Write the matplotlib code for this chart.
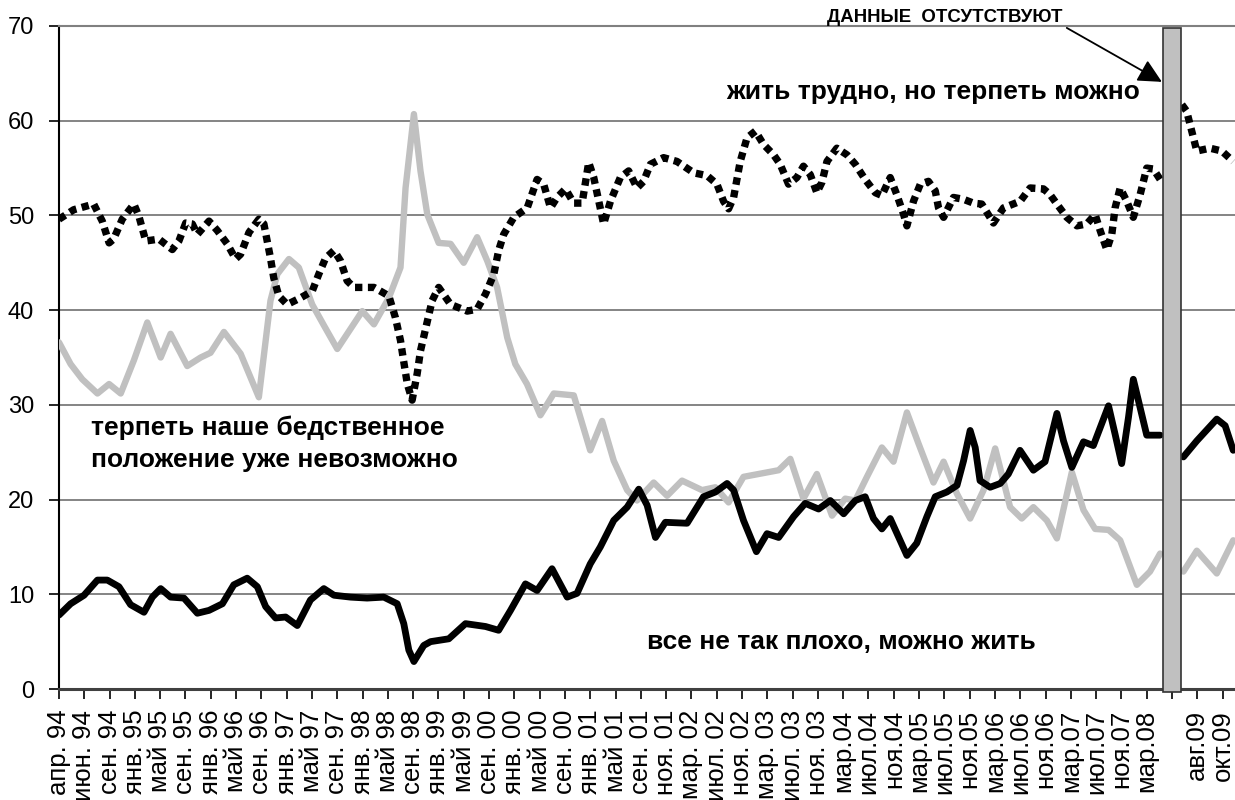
import matplotlib
matplotlib.use("Agg")
import matplotlib.pyplot as plt
import numpy as np
from matplotlib.patches import Rectangle

plt.rcParams["font.family"] = ["Liberation Sans", "DejaVu Sans"]

# category labels, one per tick (tick 44 has no data and no label)
tick_labels = [
    "апр. 94", "июн. 94", "сен. 94", "янв. 95", "май 95", "сен. 95",
    "янв. 96", "май 96", "сен. 96", "янв. 97", "май 97", "сен. 97",
    "янв. 98", "май 98", "сен. 98", "янв. 99", "май 99", "сен. 00",
    "янв. 00", "май 00", "сен. 00", "янв. 01", "май 01", "сен. 01",
    "ноя. 01", "мар. 02", "июл. 02", "ноя. 02", "мар. 03", "июл. 03",
    "ноя. 03", "мар.04", "июл.04", "ноя.04", "мар.05", "июл.05",
    "ноя.05", "мар.06", "июл.06", "ноя.06", "мар.07", "июл.07",
    "ноя.07", "мар.08", "", "авг.09", "окт.09",
]
gap_tick = 44

# "жить трудно, но терпеть можно" (position in tick units, value %)
hard_t = [0, 0.58, 1.37, 1.71, 1.98, 2.16, 2.5, 2.96, 3.16, 3.43, 3.95, 4.48,
          4.74, 5.01, 5.27, 5.47, 5.93, 6.26, 6.65, 6.98, 7.18, 7.51, 7.9, 8.1,
          8.36, 8.49, 8.69, 9.02, 9.55, 10.01, 10.27, 10.54, 10.87, 11.13, 11.39,
          11.66, 12.45, 13.04, 13.3, 13.5, 13.62, 13.77, 13.96, 14.16, 14.29,
          14.49, 14.75, 15.01, 15.48, 16.14, 16.53, 16.86, 17.19, 17.38, 17.58,
          17.98, 18.51, 18.9, 19.16, 19.43, 19.69, 20.02, 20.35, 20.68, 20.94,
          21.14, 21.34, 21.53, 21.8, 22.19, 22.52, 22.85, 23.11, 23.38, 23.9,
          24.43, 25.09, 25.62, 26.01, 26.27, 26.47, 26.67, 26.93, 27.2, 27.53,
          27.85, 28.25, 28.51, 28.84, 29.17, 29.43, 29.7, 29.96, 30.16, 30.36,
          30.75, 31.15, 31.48, 31.87, 32.27, 32.53, 32.86, 33.12, 33.39, 33.52,
          33.78, 34.05, 34.37, 34.64, 34.77, 34.97, 35.36, 35.76, 36.15, 36.48,
          36.94, 37.34, 38.0, 38.39, 38.92, 39.18, 39.45, 39.84, 40.24, 40.63,
          40.96, 41.16, 41.42, 41.62, 41.75, 41.95, 42.21, 42.47, 42.74, 43.0,
          43.26, 43.53, 44.0, 44.39, 44.58, 44.78, 44.98, 45.5, 45.97, 46.42]
hard_v = [49.6, 50.6, 51.2, 49.4, 47.1, 47.5, 49.6, 51.2, 49.9, 47.3, 47.5, 46.4,
          47.3, 49.2, 49.1, 48.0, 49.4, 48.4, 47.0, 45.4, 45.9, 48.2, 49.6, 49.1,
          45.5, 43.4, 41.5, 40.6, 41.3, 42.0, 43.8, 45.5, 46.3, 45.2, 43.1,
          42.4, 42.4, 41.5, 39.2, 36.8, 34.7, 32.2, 30.5, 33.3, 35.7,
          38.0, 41.0, 42.4, 40.6, 39.9, 40.1, 41.7, 43.8, 46.3, 48.0,
          49.8, 50.8, 53.8, 53.3, 50.8, 51.9, 52.8, 51.3, 51.3, 55.6,
          54.0, 51.5, 49.1, 51.5, 54.0, 54.7, 52.9, 53.6, 55.4, 56.1,
          55.7, 54.5, 54.2, 53.3, 51.5, 50.7, 51.9, 55.7, 58.2, 58.9,
          57.5, 56.4, 55.4, 53.3, 54.0, 55.2, 54.3, 52.4, 53.5, 55.7,
          57.1, 56.4, 55.4, 53.8, 52.4, 52.1, 54.0, 52.2, 50.1, 48.9,
          51.5, 53.3, 53.6, 52.6, 50.8, 49.8, 51.9, 51.7, 51.3, 51.2,
          49.2, 50.8, 51.5, 52.9, 52.8, 52.2, 51.2, 49.8, 48.9, 49.1,
          50.1, 48.4, 46.4, 48.0, 50.8, 52.9, 51.5, 49.8, 52.2, 55.0,
          54.9, 53.8, np.nan, 61.7, 61.0, 58.9, 56.8, 57.1, 56.8, 55.7]

# "терпеть наше бедственное положение уже невозможно"
misery_t = [0, 0.46, 0.92, 1.52, 1.98, 2.44, 2.96, 3.49, 4.02, 4.41, 5.07, 5.6,
            5.99, 6.52, 7.18, 7.9, 8.36, 8.63, 9.09, 9.48, 10.01, 10.47, 11.0,
            11.99, 12.45, 13.04, 13.5, 13.7, 14.03, 14.29, 14.56, 15.01, 15.48,
            16.0, 16.53, 16.93, 17.32, 17.72, 18.04, 18.5, 19.03, 19.56, 20.35,
            21.0, 21.47, 21.93, 22.46, 22.85, 23.51, 24.04, 24.63, 25.42, 25.95,
            26.47, 27.06, 28.45, 28.91, 29.43, 29.96, 30.56, 31.08, 31.48, 31.94,
            32.53, 32.99, 33.52, 33.98, 34.57, 34.97, 35.5, 36.02, 36.55, 37.01,
            37.6, 38.06, 38.52, 39.05, 39.45, 40.04, 40.5, 40.96, 41.49, 41.95,
            42.61, 43.13, 43.53, 44.0, 44.45, 44.98, 45.77, 46.42]
misery_v = [36.6, 34.3, 32.7, 31.2, 32.2, 31.2, 34.7, 38.7, 35.0, 37.5, 34.1, 35.0,
            35.5, 37.7, 35.4, 30.8, 41.0, 43.8, 45.4, 44.5, 40.6, 38.4, 35.9,
            39.9, 38.5, 41.3, 44.5, 52.9, 60.7, 54.7, 50.1, 47.1, 47.0,
            45.0, 47.7, 45.2, 42.4, 37.1, 34.3, 32.2, 28.9, 31.2, 31.0,
            25.2, 28.3, 24.1, 21.0, 19.9, 21.8, 20.4, 22.0, 21.0, 21.3,
            19.7, 22.4, 23.1, 24.3, 20.1, 22.7, 18.3, 20.1, 19.9, 22.4,
            25.5, 24.0, 29.2, 25.9, 21.8, 24.0, 20.6, 18.0, 21.0, 25.4,
            19.2, 18.0, 19.2, 17.8, 15.9, 22.9, 18.9, 16.9, 16.8, 15.7,
            11.0, 12.4, 14.3, np.nan, 12.4, 14.6, 12.2, 15.7]

# "все не так плохо, можно жить"
ok_t = [0, 0.46, 0.99, 1.52, 1.91, 2.37, 2.83, 3.36, 3.69, 4.02, 4.41, 4.94, 5.47,
        5.93, 6.46, 6.91, 7.44, 7.84, 8.17, 8.56, 8.96, 9.42, 9.94, 10.47, 10.87,
        11.53, 12.18, 12.84, 13.37, 13.63, 13.83, 14.03, 14.42, 14.69, 15.41,
        16.07, 16.86, 17.38, 17.85, 18.44, 18.9, 19.49, 20.09, 20.48, 21.0, 21.4,
        21.93, 22.46, 22.92, 23.25, 23.58, 23.97, 24.83, 25.48, 25.95, 26.41,
        26.67, 27.06, 27.57, 27.99, 28.45, 29.04, 29.5, 30.03, 30.49, 31.02,
        31.48, 31.87, 32.2, 32.53, 32.86, 33.25, 33.52, 33.91, 34.31, 34.64,
        35.1, 35.5, 35.76, 36.02, 36.22, 36.41, 36.81, 37.21, 37.53, 37.99,
        38.52, 38.98, 39.45, 39.71, 40.04, 40.5, 40.89, 41.49, 41.75, 42.01,
        42.28, 42.47, 42.74, 43.0, 43.53, 44.0, 44.45, 44.98, 45.77, 46.1, 46.42]
ok_v = [7.8, 9.0, 9.9, 11.5, 11.5, 10.8, 8.9, 8.1, 9.7, 10.6, 9.7, 9.6, 8.0,
        8.3, 9.0, 11.0, 11.7, 10.8, 8.7, 7.5, 7.6, 6.7, 9.4, 10.6, 9.9,
        9.7, 9.6, 9.7, 9.0, 6.9, 4.1, 2.9, 4.6, 5.0, 5.3,
        6.9, 6.6, 6.2, 8.3, 11.1, 10.4, 12.7, 9.7, 10.1, 13.2, 15.0,
        17.8, 19.2, 21.1, 19.4, 16.0, 17.6, 17.5, 20.3, 20.8, 21.7,
        21.0, 17.8, 14.5, 16.4, 16.0, 18.2, 19.6, 19.0, 19.9, 18.5,
        19.9, 20.3, 18.0, 16.9, 18.0, 15.7, 14.1, 15.4, 18.2, 20.3,
        20.8, 21.5, 24.1, 27.3, 25.5, 22.0, 21.3, 21.7, 22.7, 25.2,
        23.1, 24.0, 29.1, 26.2, 23.4, 26.1, 25.7, 29.9, 26.9, 23.8,
        28.7, 32.7, 29.7, 26.8, 26.8, np.nan, 24.5, 26.2, 28.5, 27.8, 25.2]

fig = plt.figure(figsize=(12.35, 8.0), dpi=100)
ax = fig.add_axes([59 / 1235, 1 - 689 / 800, 1 - 59 / 1235, 663 / 800])

ax.set_xlim(0, 46.49)
ax.set_ylim(0, 70)
ax.set_yticks(range(0, 71, 10))
ax.yaxis.grid(True, color="#707070", lw=1.2)
ax.set_axisbelow(True)

ax.set_xticks(range(len(tick_labels)))
ax.set_xticklabels(tick_labels, rotation=90, fontsize=18.5)
ax.tick_params(axis="x", length=7, width=1.2, colors="black", pad=8)
ax.tick_params(axis="y", length=7, width=1.2, labelsize=17, pad=11)

ax.spines["right"].set_visible(False)
ax.spines["top"].set_color("#808080")
ax.spines["top"].set_linewidth(1.5)
ax.spines["left"].set_linewidth(1.5)
ax.spines["bottom"].set_color("#404040")
ax.spines["bottom"].set_linewidth(2.2)

ax.plot(misery_t, misery_v, color="#C0C0C0", lw=4.6,
        solid_joinstyle="round", solid_capstyle="round", zorder=3)
ax.plot(hard_t, hard_v, color="black", lw=5.3, linestyle=(0, (1.0, 0.75)),
        dash_capstyle="butt", zorder=4)
ax.plot(ok_t, ok_v, color="black", lw=4.9,
        solid_joinstyle="round", solid_capstyle="round", zorder=5)

# no-data bar at the missing category
ax.add_patch(Rectangle((gap_tick - 0.34, -0.3), 0.68, 70.05, facecolor="#C0C0C0",
                       edgecolor="#333333", lw=1.2, clip_on=False, zorder=6))

bold = dict(fontsize=19, fontweight="bold", color="black")
ax.text(42.74, 63.0, "жить трудно, но терпеть можно", ha="right", va="center", **bold)
ax.text(1.25, 25.9, "терпеть наше бедственное\nположение уже невозможно",
        ha="left", va="center", linespacing=1.4, **bold)
ax.text(23.25, 5.0, "все не так плохо, можно жить", ha="left", va="center", **bold)

ax.text(30.37, 70.85, "ДАННЫЕ  ОТСУТСТВУЮТ", ha="left", va="center",
        fontsize=13.4, fontweight="bold")
ax.annotate("", xy=(43.6, 64.1), xytext=(39.84, 69.8),
            arrowprops=dict(arrowstyle="-|>,head_length=1.2,head_width=0.6",
                            mutation_scale=12, color="black", lw=1.3,
                            shrinkA=0, shrinkB=0),
            annotation_clip=False, zorder=7)

fig.savefig("out.png", dpi=100)
